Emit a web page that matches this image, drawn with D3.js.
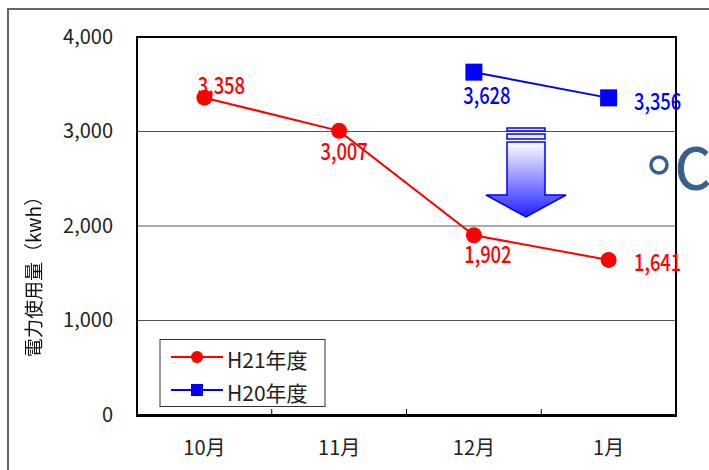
<!DOCTYPE html>
<html>
<head>
<meta charset="utf-8">
<script src="https://cdn.jsdelivr.net/npm/d3@7"></script>
<style>
  body { margin: 0; background: #fff; }
  svg text { font-family: "Noto Sans CJK JP", "DejaVu Sans", sans-serif; }
</style>
</head>
<body>
<svg id="chart" width="709" height="470"></svg>
<script>
'use strict';

const months = ['10月', '11月', '12月', '1月'];
const h21 = [3358, 3007, 1902, 1641];
const h20 = [null, null, 3628, 3356];
const yTicks = [0, 1000, 2000, 3000, 4000];
const seriesNames = ['H21年度', 'H20年度'];

const LEFT = 137;
const RIGHT = 676;
const TOP = 37;
const BOTTOM = 415;

const svg = d3.select('#chart');

// outer frame (cropped at right / bottom)
svg.append('path')
    .attr('d', 'M8,470 V9 H709')
    .attr('fill', 'none')
    .attr('stroke', '#666')
    .attr('stroke-width', 2);

const x = d3.scaleBand().domain(months).range([LEFT, RIGHT]).padding(0);
const y = d3.scaleLinear().domain([0, 4000]).range([BOTTOM, TOP]);
const cx = (m) => x(m) + x.bandwidth() / 2;

// gridlines
svg.append('g')
    .selectAll('line')
    .data(yTicks.filter(d => d > 0 && d < 4000))
    .enter()
    .append('line')
    .attr('x1', LEFT).attr('x2', RIGHT)
    .attr('y1', d => y(d)).attr('y2', d => y(d))
    .attr('stroke', '#555')
    .attr('stroke-width', 1);

// plot border
svg.append('rect')
    .attr('x', LEFT).attr('y', TOP)
    .attr('width', RIGHT - LEFT).attr('height', BOTTOM - TOP)
    .attr('fill', 'none')
    .attr('stroke', '#000')
    .attr('stroke-width', 2);

svg.append('line')
    .attr('x1', LEFT - 1).attr('x2', RIGHT + 1)
    .attr('y1', BOTTOM + 0.5).attr('y2', BOTTOM + 0.5)
    .attr('stroke', '#000').attr('stroke-width', 3);

// y axis labels
const yAxis = d3.axisLeft(y)
    .tickValues(yTicks)
    .tickSize(0)
    .tickPadding(24)
    .tickFormat(d3.format(','));
const gY = svg.append('g').attr('transform', `translate(${LEFT},0)`).call(yAxis);
gY.select('.domain').remove();
gY.selectAll('.tick text')
    .attr('font-size', 20)
    .attr('fill', '#222')
    .style('font-family', '"Noto Sans CJK JP", sans-serif');

// x axis
const xAxis = d3.axisBottom(x).tickSize(0).tickPadding(26);
const gX = svg.append('g').attr('transform', `translate(0,${BOTTOM})`).call(xAxis);
gX.select('.domain').remove();
gX.selectAll('.tick text')
    .attr('font-size', 20)
    .attr('fill', '#222')
    .style('font-family', '"Noto Sans CJK JP", sans-serif');

// inner ticks at category boundaries
svg.append('g')
    .selectAll('line')
    .data(months.slice(1))
    .enter()
    .append('line')
    .attr('x1', d => x(d)).attr('x2', d => x(d))
    .attr('y1', BOTTOM).attr('y2', BOTTOM - 6)
    .attr('stroke', '#000').attr('stroke-width', 1);

const defs = svg.append('defs');

// plain filter so the rotated title is drawn with grey antialiasing
defs.append('filter').attr('id', 'flat')
    .append('feOffset').attr('dx', 0).attr('dy', 0);

// y title
svg.append('g')
    .attr('filter', 'url(#flat)')
    .append('text')
    .attr('transform', 'translate(36,272) rotate(-90)')
    .attr('text-anchor', 'middle')
    .attr('dominant-baseline', 'middle')
    .attr('font-size', 19)
    .attr('fill', '#111')
    .text('電力使用量（kwh）');

// arrow
const grad = defs.append('linearGradient')
    .attr('id', 'arrowGrad')
    .attr('x1', 0).attr('y1', 0).attr('x2', 0).attr('y2', 1);
grad.append('stop').attr('offset', '0%').attr('stop-color', '#ffffff');
grad.append('stop').attr('offset', '100%').attr('stop-color', '#2020ff');

const arrow = svg.append('g').attr('stroke', '#0000ff').attr('stroke-width', 1.5);
arrow.append('rect').attr('x', 507).attr('y', 128).attr('width', 38).attr('height', 3).attr('fill', '#f4f4ff');
arrow.append('rect').attr('x', 507).attr('y', 134).attr('width', 38).attr('height', 5).attr('fill', '#eeeeff');
arrow.append('path')
    .attr('d', 'M507,142 H545 V195 H566 L526,217 L486,195 H507 Z')
    .attr('fill', 'url(#arrowGrad)');

// lines
const line = d3.line()
    .defined(d => d.v != null)
    .x(d => cx(d.m))
    .y(d => y(d.v));

const red = months.map((m, i) => ({m, v: h21[i]}));
const blue = months.map((m, i) => ({m, v: h20[i]}));

svg.append('path').datum(red).attr('d', line)
    .attr('fill', 'none').attr('stroke', '#ff0000').attr('stroke-width', 2);
svg.append('path').datum(blue).attr('d', line)
    .attr('fill', 'none').attr('stroke', '#0000ff').attr('stroke-width', 2);

svg.append('g').selectAll('circle')
    .data(red)
    .enter()
    .append('circle')
    .attr('cx', d => cx(d.m))
    .attr('cy', d => y(d.v))
    .attr('r', 8)
    .attr('fill', '#ff0000');

svg.append('g').selectAll('rect')
    .data(blue.filter(d => d.v != null))
    .enter()
    .append('rect')
    .attr('x', d => cx(d.m) - 8.5)
    .attr('y', d => y(d.v) - 8.5)
    .attr('width', 17).attr('height', 17)
    .attr('fill', '#0000ff');

// data labels (offsets as in the original)
const fmt = d3.format(',');
const redOff = [[17, -14], [5, 19], [14, 18], [49, 1]];
const blueOff = [[13, 22], [49, 2]];

function label(px, py, text, color) {
    svg.append('text')
        .attr('transform', `translate(${px},${py}) scale(0.8,1)`)
        .attr('text-anchor', 'middle')
        .attr('dominant-baseline', 'central')
        .attr('font-size', 23)
        .attr('font-weight', 500)
        .attr('fill', color)
        .text(text);
}

red.forEach((d, i) => label(cx(d.m) + redOff[i][0], y(d.v) + redOff[i][1], fmt(d.v), '#ff0000'));
blue.filter(d => d.v != null).forEach((d, i) =>
    label(cx(d.m) + blueOff[i][0], y(d.v) + blueOff[i][1], fmt(d.v), '#0000ff'));

// legend
const lg = svg.append('g');
lg.append('rect')
    .attr('x', 160).attr('y', 339.5).attr('width', 165).attr('height', 67)
    .attr('fill', '#fff').attr('stroke', '#333').attr('stroke-width', 1);
const legendColors = ['#ff0000', '#0000ff'];
seriesNames.forEach((name, i) => {
    const ly = 357 + i * 33;
    lg.append('line')
        .attr('x1', 171).attr('x2', 223).attr('y1', ly).attr('y2', ly)
        .attr('stroke', legendColors[i]).attr('stroke-width', 2);
    if (i === 0) {
        lg.append('circle').attr('cx', 197).attr('cy', ly).attr('r', 6).attr('fill', legendColors[i]);
    } else {
        lg.append('rect').attr('x', 191).attr('y', ly - 6).attr('width', 12).attr('height', 12).attr('fill', legendColors[i]);
    }
    lg.append('text')
        .attr('x', 227).attr('y', ly + 2)
        .attr('dominant-baseline', 'central')
        .attr('font-size', 21)
        .attr('fill', '#222')
        .text(name);
});

// clipped ℃ mark on the right
svg.append('circle')
    .attr('cx', 659).attr('cy', 165).attr('r', 8)
    .attr('fill', 'none').attr('stroke', '#3a5f8c').attr('stroke-width', 3.5);
svg.append('text')
    .attr('x', 675).attr('y', 164)
    .attr('dominant-baseline', 'central')
    .attr('font-size', 56)
    .attr('fill', '#3a5f8c')
    .attr('stroke', '#3a5f8c')
    .attr('stroke-width', 1)
    .text('C');
</script>
</body>
</html>
